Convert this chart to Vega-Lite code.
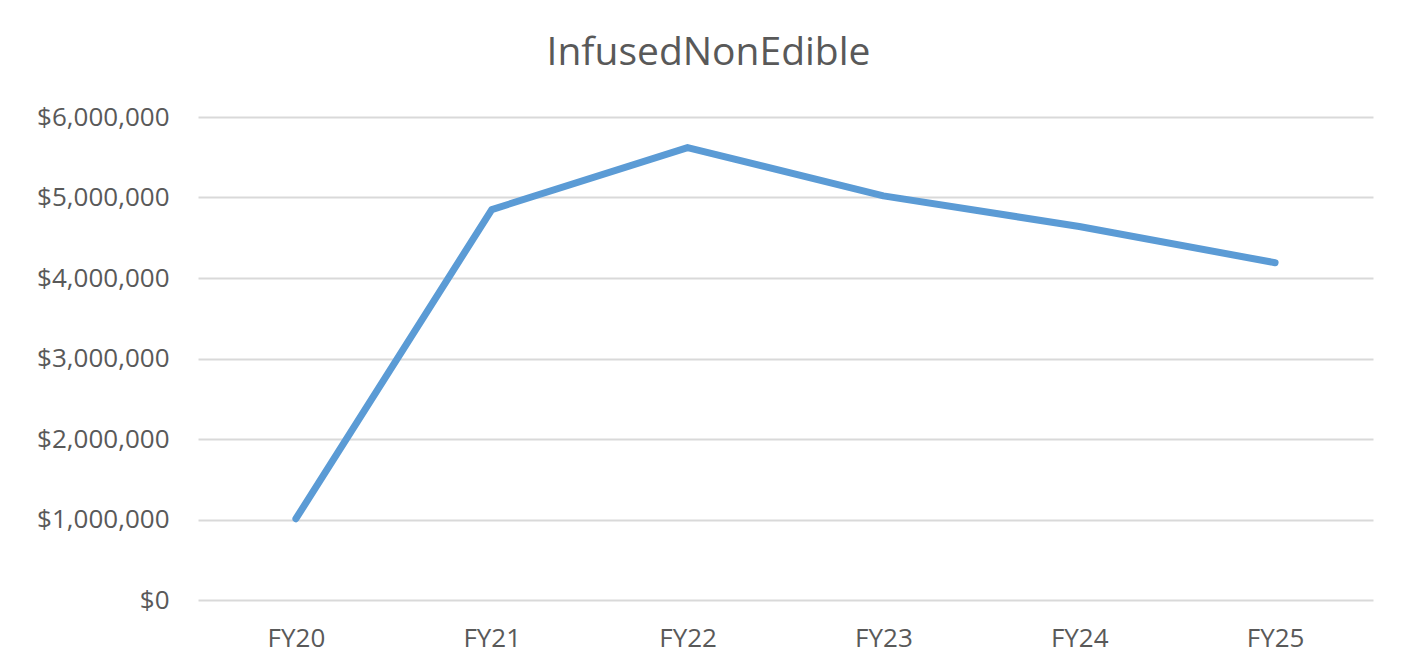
{
  "$schema": "https://vega.github.io/schema/vega-lite/v6.json",
  "autosize": {"type": "none"},
  "width": 1175,
  "height": 483,
  "padding": {"left": 198, "top": 117, "right": 46, "bottom": 71},
  "background": "white",
  "title": {
    "text": "InfusedNonEdible",
    "anchor": "middle",
    "frame": "group",
    "dx": -77,
    "baseline": "alphabetic",
    "offset": 0,
    "font": "Open Sans",
    "fontSize": 39,
    "fontWeight": "normal",
    "color": "#595959"
  },
  "data": {
    "values": [
      {"year": "FY20", "value": 1010000},
      {"year": "FY21", "value": 4850000},
      {"year": "FY22", "value": 5620000},
      {"year": "FY23", "value": 5020000},
      {"year": "FY24", "value": 4640000},
      {"year": "FY25", "value": 4190000}
    ]
  },
  "mark": {"type": "line", "color": "#5B9BD5", "strokeWidth": 7, "strokeCap": "round", "strokeJoin": "round"},
  "encoding": {
    "x": {
      "field": "year",
      "type": "nominal",
      "sort": null,
      "axis": {
        "title": null,
        "labelAngle": 0,
        "domain": false,
        "ticks": false,
        "grid": false,
        "labelPadding": 25,
        "labelFont": "Open Sans",
        "labelFontSize": 26,
        "labelColor": "#595959"
      }
    },
    "y": {
      "field": "value",
      "type": "quantitative",
      "scale": {"domain": [0, 6000000], "nice": false},
      "axis": {
        "title": null,
        "values": [0, 1000000, 2000000, 3000000, 4000000, 5000000, 6000000],
        "format": "$,.0f",
        "domain": false,
        "ticks": false,
        "grid": true,
        "gridColor": "#d9d9d9",
        "gridWidth": 2,
        "labelPadding": 29,
        "labelFont": "Open Sans",
        "labelFontSize": 26,
        "labelColor": "#595959"
      }
    }
  },
  "config": {"view": {"stroke": null}}
}
